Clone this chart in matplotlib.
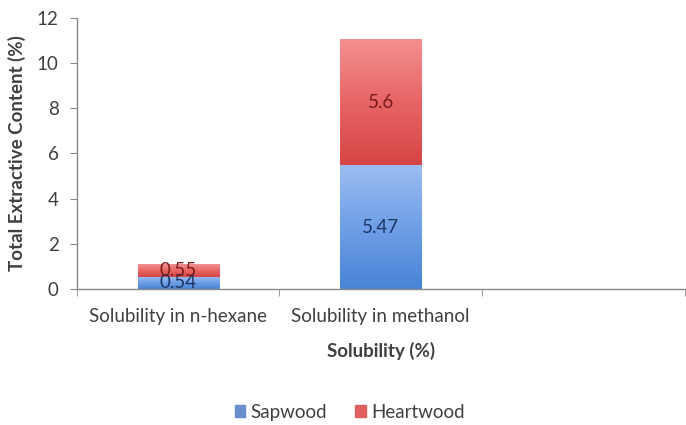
import numpy as np
import matplotlib.pyplot as plt
from matplotlib.colors import LinearSegmentedColormap

categories = ["Solubility in n-hexane", "Solubility in methanol", ""]
sapwood = [0.54, 5.47, 0.0]
heartwood = [0.55, 5.6, 0.0]
series_names = ["Sapwood", "Heartwood"]
yticks = [0, 2, 4, 6, 8, 10, 12]

plt.rcParams['font.family'] = ['Lato', 'DejaVu Sans']
text_col = '#404040'
fs = 13.5

fig = plt.figure(figsize=(6.86, 4.25), dpi=100)
ax = fig.add_axes([0.112, 0.32, 0.886, 0.638])

x = np.arange(len(categories))
w = 0.4

blue_cmap = LinearSegmentedColormap.from_list('b', ['#4a84d6', '#6f9fe6', '#9cbdf2'])
red_cmap = LinearSegmentedColormap.from_list('r', ['#d64545', '#e86565', '#f38f8f'])

def gradient_bars(bars, cmap):
    grad = np.linspace(0, 1, 64).reshape(-1, 1)
    for b in bars:
        if b.get_height() <= 0:
            continue
        x0, y0 = b.get_x(), b.get_y()
        x1, y1 = x0 + b.get_width(), y0 + b.get_height()
        im = ax.imshow(grad, cmap=cmap, aspect='auto', origin='lower',
                       extent=(x0, x1, y0, y1), zorder=2)
        im.set_clip_path(b)
        b.set_facecolor('none')

b1 = ax.bar(x, sapwood, w, color='#5b8fdc', label=series_names[0], zorder=1)
b2 = ax.bar(x, heartwood, w, bottom=sapwood, color='#e05a5a', label=series_names[1], zorder=1)
gradient_bars(b1, blue_cmap)
gradient_bars(b2, red_cmap)

for xi, s, h in zip(x, sapwood, heartwood):
    if s > 0:
        ax.text(xi, s / 2, f"{s:g}", ha='center', va='center', fontsize=fs,
                color='#1c3766', zorder=3)
    if h > 0:
        ax.text(xi, s + h / 2, f"{h:g}", ha='center', va='center', fontsize=fs,
                color='#7a1c1c', zorder=3)

ax.set_xlim(-0.5, len(categories) - 0.5)
ax.set_ylim(0, 12)
ax.set_yticks(yticks)
ax.set_xticks(x)
ax.set_xticklabels(categories, fontsize=fs, color=text_col)
ax.set_xticks(np.arange(len(categories) + 1) - 0.5, minor=True)
ax.tick_params(axis='x', which='major', length=0, pad=14)
ax.tick_params(axis='x', which='minor', length=5, color='#888888', direction='out')
ax.tick_params(axis='y', length=5, color='#888888', labelsize=fs, labelcolor=text_col, pad=8)

for side in ['top', 'right']:
    ax.spines[side].set_visible(False)
for side in ['left', 'bottom']:
    ax.spines[side].set_color('#888888')
    ax.spines[side].set_linewidth(1.0)

ax.set_ylabel("Total Extractive Content (%)", fontsize=fs, fontweight='bold',
              color=text_col, labelpad=8)
ax.set_xlabel("Solubility (%)", fontsize=fs, fontweight='bold', color=text_col, labelpad=12)

handles = [plt.Rectangle((0, 0), 1, 1, color='#6a8fcf'),
           plt.Rectangle((0, 0), 1, 1, color='#e06060')]
fig.legend(handles, series_names, loc='center', bbox_to_anchor=(0.51, 0.03),
           ncol=2, frameon=False, fontsize=fs, handlelength=0.55, handleheight=0.55,
           handletextpad=0.3, columnspacing=1.5, labelcolor=text_col)

fig.savefig('out.png', dpi=100)
